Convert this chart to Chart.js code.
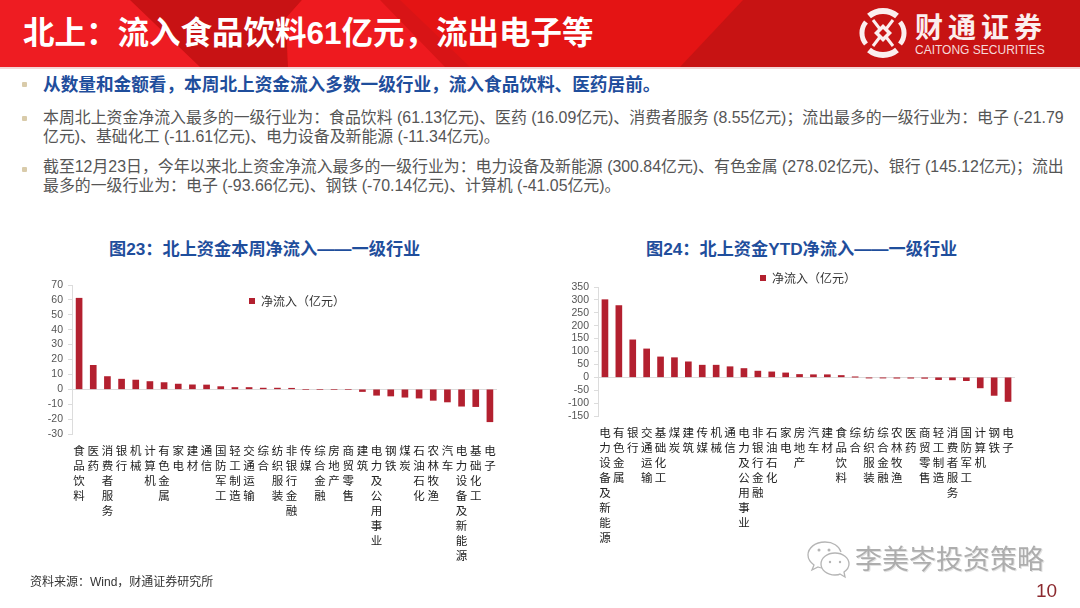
<!DOCTYPE html>
<html>
<head>
<meta charset="utf-8">
<script src="https://cdn.jsdelivr.net/npm/chart.js@4/dist/chart.umd.min.js"></script>
<style>
html, body { margin: 0; padding: 0; background: #fff; }
body { width: 1080px; height: 608px; position: relative; overflow: hidden; font-family: "Liberation Sans", "Noto Sans CJK SC", sans-serif; }
.abs { position: absolute; white-space: nowrap; }
#band { position: absolute; left: 0; top: 0; width: 1080px; height: 67px; background: #e41414; }
#bandLine { position: absolute; left: 0; top: 67px; width: 1080px; height: 2px; background: #f3d6d6; }
.line { font-size: 15.9px; line-height: 20px; color: #555; left: 43px; }
.lead { font-size: 17.65px; font-weight: bold; color: #1f4e9c; }
.dot { position: absolute; left: 22px; width: 5px; height: 5px; background: #d9cbaa; border-radius: 1px; }
.chartTitle { font-size: 17.2px; line-height: 22px; font-weight: bold; color: #1f4e9c; }
canvas { position: absolute; }
</style>
</head>
<body>
<svg id="band" viewBox="0 0 1080 67" width="1080" height="67">
  <polygon points="0,0 1080,0 1080,67 0,67" fill="#e41414"/>
  <polygon points="0,0 135,0 205,67 0,67" fill="#ee1c22"/>
  <polygon points="130,0 302,0 286,18 288,67 200,67" fill="#c81214"/>
  <polygon points="286,18 302,0 385,0 450,67 288,67" fill="#ee1a1f"/>
  <polygon points="380,0 400,0 470,67 445,67" fill="#d81416"/>
  <polygon points="743,0 1080,0 1080,67 680,67" fill="#c71313"/>
  <g fill="none" stroke="#fbeeee" stroke-linecap="butt">
    <path d="M869 16 A22 22 0 0 1 897 16" stroke-width="6"/>
    <path d="M869 50 A22 22 0 0 0 897 50" stroke-width="6"/>
    <path d="M866 22 A17 17 0 0 0 866 44" stroke-width="5"/>
    <path d="M900 22 A17 17 0 0 1 900 44" stroke-width="5"/>
    <path d="M873 20 L893 46 M893 20 L873 46" stroke-width="3"/>
  </g>
  <polygon points="883,24 892,33 883,42 874,33" fill="#fbeeee"/>
  <polygon points="883,29 887,33 883,37 879,33" fill="#c71313"/>
</svg>
<div id="bandLine"></div>
<div class="abs" style="left:23px;top:13px;font-size:31.5px;line-height:40px;font-weight:bold;color:#fff;">北上：流入食品饮料61亿元，流出电子等</div>
<div class="abs" style="left:915px;top:12px;font-size:28px;line-height:34px;font-weight:bold;color:#fbeeee;letter-spacing:5px;">财通证券</div>
<div class="abs" style="left:915px;top:43px;font-size:12px;line-height:15px;color:#f6d9d9;">CAITONG SECURITIES</div>

<div class="dot" style="top:82px"></div>
<div class="dot" style="top:116px"></div>
<div class="dot" style="top:167px"></div>
<div class="abs line lead" style="top:75px">从数量和金额看，本周北上资金流入多数一级行业，流入食品饮料、医药居前。</div>
<div class="abs line" style="top:108px">本周北上资金净流入最多的一级行业为：食品饮料 (61.13亿元)、医药 (16.09亿元)、消费者服务 (8.55亿元)；流出最多的一级行业为：电子 (-21.79</div>
<div class="abs line" style="top:127px">亿元)、基础化工 (-11.61亿元)、电力设备及新能源 (-11.34亿元)。</div>
<div class="abs line" style="top:157px">截至12月23日，今年以来北上资金净流入最多的一级行业为：电力设备及新能源 (300.84亿元)、有色金属 (278.02亿元)、银行 (145.12亿元)；流出</div>
<div class="abs line" style="top:176px">最多的一级行业为：电子 (-93.66亿元)、钢铁 (-70.14亿元)、计算机 (-41.05亿元)。</div>

<div class="abs chartTitle" style="left:109px;top:238px">图23：北上资金本周净流入——一级行业</div>
<div class="abs chartTitle" style="left:646px;top:238px">图24：北上资金YTD净流入——一级行业</div>

<canvas id="weekly" width="477" height="312" style="left:20px;top:263px"></canvas>
<canvas id="ytd" width="465" height="295" style="left:550px;top:265px"></canvas>

<div class="abs" style="left:30px;top:575px;font-size:12px;line-height:14px;color:#333;">资料来源：Wind，财通证券研究所</div>

<svg class="abs" style="left:806px;top:540px" width="46" height="40" viewBox="0 0 46 40">
  <g fill="#fff" stroke="#b5b5b5" stroke-width="1.3">
    <path d="M19 2 C9 2 2 8 2 15 C2 19 4 22 8 25 L6 30 L12 27 C14 28 16 28 18 28"/>
    <path d="M19 2 C27 2 33 6 35 12"/>
    <path d="M29 13 C21 13 15 18 15 24 C15 30 21 35 29 35 C31 35 33 35 34 34 L39 37 L38 32 C41 30 43 27 43 24 C43 18 37 13 29 13 Z"/>
  </g>
  <g fill="#b5b5b5"><circle cx="13" cy="10" r="1.5"/><circle cx="23" cy="10" r="1.5"/><circle cx="24" cy="22" r="1.2"/><circle cx="34" cy="22" r="1.2"/></g>
</svg>
<div class="abs" style="left:855px;top:543px;font-size:27px;line-height:34px;color:#adadad;text-shadow:1px 1px 0 #e2e2e2;">李美岑投资策略</div>
<div class="abs" style="left:1036px;top:579px;font-size:19px;line-height:24px;color:#8c2a2f;">10</div>

<script>
// 图23 本周净流入（亿元）
var weeklyCategories = ["食品饮料", "医药", "消费者服务", "银行", "机械", "计算机", "有色金属", "家电", "建材", "通信", "国防军工", "轻工制造", "交通运输", "综合", "纺织服装", "非银行金融", "传媒", "综合金融", "房地产", "商贸零售", "建筑", "电力及公用事业", "钢铁", "煤炭", "石油石化", "农林牧渔", "汽车", "电力设备及新能源", "基础化工", "电子"];
var weeklyValues = [61.13, 16.09, 8.55, 6.8, 6.2, 5.2, 4.5, 3.5, 3.0, 2.9, 1.8, 1.2, 1.2, 0.8, 0.8, 0.7, 0, 0, 0, 0, -1.5, -4.0, -4.5, -5.3, -5.9, -7.4, -8.5, -11.34, -11.61, -21.79];

// 图24 YTD净流入（亿元）
var ytdCategories = ["电力设备及新能源", "有色金属", "银行", "交通运输", "基础化工", "煤炭", "建筑", "传媒", "机械", "通信", "电力及公用事业", "非银行金融", "石油石化", "家电", "房地产", "汽车", "建材", "食品饮料", "综合", "纺织服装", "综合金融", "农林牧渔", "医药", "商贸零售", "轻工制造", "消费者服务", "国防军工", "计算机", "钢铁", "电子"];
var ytdValues = [300.84, 278.02, 145.12, 110, 79, 76, 60, 47, 47, 41, 34, 24, 21, 17, 11, 10, 10, 7, 0.5, -3, -3, -3.5, -3.5, -4, -9, -10, -13, -41.05, -70.14, -93.66];

var seriesName = "净流入（亿元）";
var barColor = "#b3202f";
var cjk = '"Noto Sans CJK SC", sans-serif';

// 把图例挪进绘图区
var moveLegend = {
	id: "moveLegend",
	afterLayout: function(chart) {
		var pos = chart.options.plugins.moveLegend;
		var legend = chart.legend;
		var w = legend.right - legend.left;
		var h = legend.bottom - legend.top;
		legend.left = pos.x;
		legend.right = pos.x + w;
		legend.top = pos.y;
		legend.bottom = pos.y + h;
	}
};

function drawBars(id, labels, values, yMin, yMax, step, axisWidth, axisHeight, legendPos) {
	return new Chart(document.getElementById(id).getContext("2d"), {
		type: "bar",
		data: {
			labels: labels.map(function(s) { return s.split(""); }),
			datasets: [{
				label: seriesName,
				data: values,
				backgroundColor: barColor,
				barThickness: 6
			}]
		},
		plugins: [moveLegend],
		options: {
			responsive: false,
			animation: false,
			plugins: {
				tooltip: { enabled: false },
				moveLegend: legendPos,
				legend: {
					position: "top",
					align: "start",
					labels: {
						boxWidth: 6,
						boxHeight: 6,
						padding: 0,
						color: "#333",
						font: { family: cjk, size: 12 }
					}
				}
			},
			scales: {
				x: {
					border: { display: false },
					grid: { display: false, tickLength: 9 },
					afterFit: function(scale) { scale.height = axisHeight; },
					ticks: {
						autoSkip: false,
						maxRotation: 0,
						minRotation: 0,
						padding: 0,
						color: "#222",
						font: { family: cjk, size: 11.5, lineHeight: 15 / 11.5 }
					}
				},
				y: {
					min: yMin,
					max: yMax,
					border: { color: "#dcdcdc" },
					afterFit: function(scale) { scale.width = axisWidth; },
					grid: {
						tickLength: 4,
						tickColor: "#dcdcdc",
						color: function(c) { return c.tick.value === 0 ? "#dcdcdc" : "rgba(0,0,0,0)"; }
					},
					ticks: {
						stepSize: step,
						autoSkip: false,
						padding: 5,
						color: "#555",
						font: { family: '"Liberation Sans", sans-serif', size: 10.5 }
					}
				}
			}
		}
	});
}

drawBars("weekly", weeklyCategories, weeklyValues, -30, 70, 10, 52, 141, { x: 229, y: 32 });
drawBars("ytd", ytdCategories, ytdValues, -150, 350, 50, 48, 144, { x: 210, y: 7 });
</script>
</body>
</html>
